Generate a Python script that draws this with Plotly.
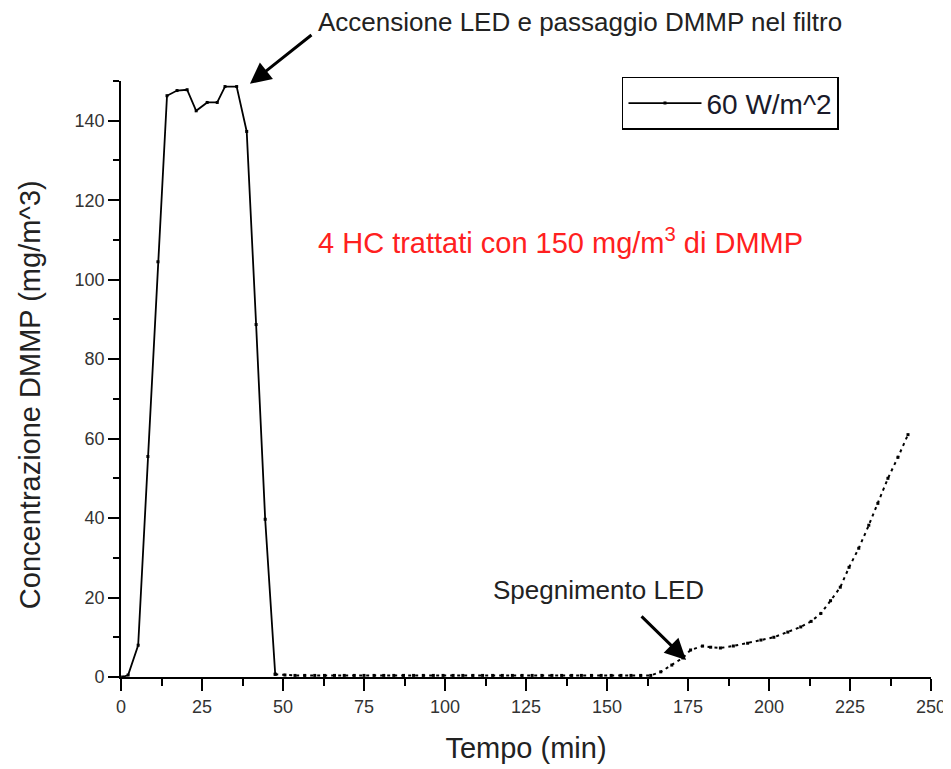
import plotly.graph_objects as go

# ---- data ----
peak_time = [0.5, 2.2, 5.3, 8.3, 11.4, 14.2, 17.3, 20.4, 23.2, 26.6, 29.7, 32.1,
             35.7, 38.8, 41.7, 44.5, 47.6]
peak_conc = [0.0, 0.5, 8.0, 55.5, 104.5, 146.3, 147.6, 147.8, 142.5, 144.6, 144.6,
             148.6, 148.6, 137.3, 88.7, 39.7, 0.7]

tail_time = [47.6, 50.6, 53.7, 56.7, 59.8, 62.8, 65.9, 68.9, 72.0, 75.0, 78.1, 81.1,
             84.2, 87.2, 90.3, 93.3, 96.4, 99.4, 102.5, 105.5, 108.6, 111.6, 114.7,
             117.7, 120.8, 123.8, 126.9, 129.9, 133.0, 136.0, 139.1, 142.1, 145.2,
             148.2, 151.3, 154.3, 157.4, 160.4, 163.5, 166.6, 170.0, 173.4, 175.8,
             179.5, 182.0, 185.0, 189.0, 193.4, 197.5, 201.5, 205.8, 209.8, 213.0,
             216.0, 219.0, 222.0, 224.7, 227.7, 230.8, 233.6, 236.7, 239.8, 242.9]
tail_conc = [0.7, 0.5, 0.4, 0.4, 0.4, 0.4, 0.4, 0.4, 0.4, 0.4, 0.4, 0.4,
             0.4, 0.4, 0.4, 0.4, 0.4, 0.4, 0.4, 0.4, 0.4, 0.4, 0.4,
             0.4, 0.4, 0.4, 0.4, 0.4, 0.4, 0.4, 0.4, 0.4, 0.4,
             0.4, 0.4, 0.4, 0.4, 0.4, 0.4, 1.3, 3.0, 4.8, 6.8,
             7.8, 7.5, 7.3, 7.8, 8.5, 9.3, 10.0, 11.3, 12.6, 14.0,
             16.0, 19.2, 22.6, 27.6, 32.4, 38.2, 43.7, 50.0, 55.3, 61.0]

series_name = "60 W/m^2"
x_title = "Tempo (min)"
y_title = "Concentrazione DMMP (mg/m^3)"
note_top = "Accensione LED e passaggio DMMP nel filtro"
note_mid = "4 HC trattati con 150 mg/m<sup>3</sup> di DMMP"
note_low = "Spegnimento LED"

FONT = "Liberation Sans, Arial, sans-serif"

fig = go.Figure()
fig.add_trace(go.Scatter(
    x=peak_time, y=peak_conc, mode="lines+markers", name=series_name,
    line=dict(color="black", width=1.8),
    marker=dict(symbol="square", size=3, color="black"),
    showlegend=True,
))
fig.add_trace(go.Scatter(
    x=tail_time, y=tail_conc, mode="lines+markers", name=series_name,
    line=dict(color="black", width=2, dash="3px,4px"),
    marker=dict(symbol="square", size=3, color="black"),
    showlegend=False,
))

axis_common = dict(
    showline=True, linecolor="black", linewidth=1.8,
    ticks="outside", tickcolor="black", tickwidth=1.5,
    showgrid=False, zeroline=False, mirror=False, automargin=False,
    tickfont=dict(family=FONT, size=18, color="#333333"),
)

fig.update_xaxes(
    range=[0, 250], tickmode="linear", tick0=0, dtick=25, ticklen=12,
    minor=dict(ticks="outside", dtick=12.5, ticklen=7, tickcolor="black", tickwidth=1.5),
    title=dict(text=x_title, font=dict(family=FONT, size=29, color="#222222"), standoff=22),
    **axis_common,
)
fig.update_yaxes(
    range=[0, 150], tickmode="linear", tick0=0, dtick=20, ticklen=11,
    minor=dict(ticks="outside", dtick=10, ticklen=6, tickcolor="black", tickwidth=1.5),
    **axis_common,
)

# the page body adds an 8px offset; size and margins compensate for it
fig.update_layout(
    width=943, height=761,
    margin=dict(l=113, r=20, t=73, b=92),
    paper_bgcolor="white", plot_bgcolor="white",
    font=dict(family=FONT, color="#222222"),
    legend=dict(
        x=0.6185, y=1.007, xanchor="left", yanchor="top",
        bordercolor="black", borderwidth=1.5, bgcolor="white",
        font=dict(family=FONT, size=28, color="#1a1a2a"),
        itemwidth=73,
    ),
    annotations=[
        dict(x=-0.1123, y=0.473, xref="paper", yref="paper", text=y_title, showarrow=False,
             textangle=-90, xanchor="center", yanchor="middle",
             font=dict(family=FONT, size=29, color="#222222")),
        dict(x=0.2407, y=1.099, xref="paper", yref="paper", text=note_top, showarrow=False,
             xanchor="left", yanchor="middle",
             font=dict(family=FONT, size=26, color="#222222")),
        dict(x=39.8, y=149.3, xref="x", yref="y", text="", showarrow=True,
             ax=63, ay=-50, arrowhead=2, arrowsize=1.4, arrowwidth=3, arrowcolor="black"),
        dict(x=135.8, y=109.8, xref="x", yref="y", text=note_mid, showarrow=False,
             xanchor="center", yanchor="middle",
             font=dict(family=FONT, size=29, color="#ff2020")),
        dict(x=147.5, y=21.9, xref="x", yref="y", text=note_low, showarrow=False,
             xanchor="center", yanchor="middle",
             font=dict(family=FONT, size=26, color="#222222")),
        dict(x=174.4, y=4.3, xref="x", yref="y", text="", showarrow=True,
             ax=-46, ay=-45, arrowhead=2, arrowsize=1.4, arrowwidth=3, arrowcolor="black"),
    ],
)

fig.write_html("out.html")
